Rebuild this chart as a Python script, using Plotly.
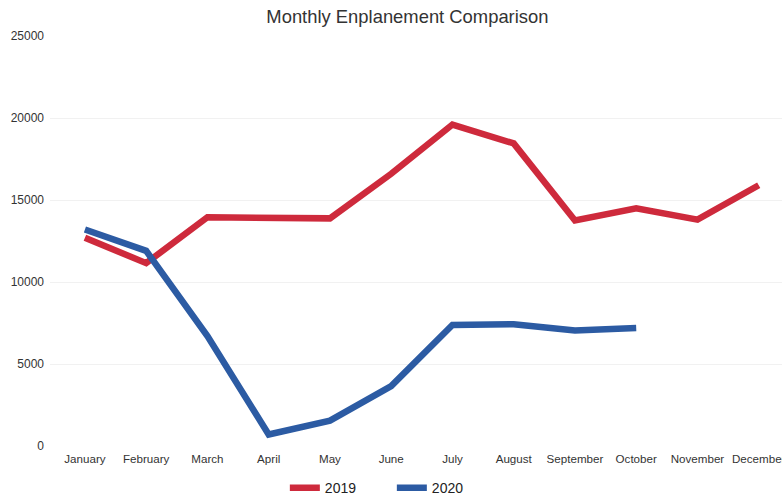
import plotly.graph_objects as go

months = ["January", "February", "March", "April", "May", "June",
          "July", "August", "September", "October", "November", "December"]
enpl_2019 = [12700, 11150, 13950, 13900, 13880, 16600,
             19600, 18450, 13750, 14500, 13800, 15900]
enpl_2020 = [13200, 11900, 6700, 700, 1550, 3650,
             7380, 7420, 7050, 7200]

red = "#CE2A3C"
blue = "#2C5BA3"
font_family = "Liberation Sans, Arial, sans-serif"

fig = go.Figure()
fig.add_trace(go.Scatter(x=months, y=enpl_2019, name="2019", mode="lines",
                         line=dict(color=red, width=6.5)))
fig.add_trace(go.Scatter(x=months[:len(enpl_2020)], y=enpl_2020, name="2020",
                         mode="lines", line=dict(color=blue, width=6.5)))

fig.update_layout(
    width=782, height=498,
    margin=dict(l=50, r=0, t=36, b=52, autoexpand=False),
    paper_bgcolor="white", plot_bgcolor="white",
    font=dict(family=font_family, color="#333333", size=12),
    title=dict(text="Monthly Enplanement Comparison", x=0.521, xanchor="center",
               y=0.966, yanchor="middle",
               font=dict(size=18.4, color="#333333", family=font_family)),
    showlegend=True,
    legend=dict(orientation="h", x=0.467, xanchor="center",
                yref="container", y=0.02, yanchor="middle",
                font=dict(size=14, color="#222222"),
                entrywidth=62, entrywidthmode="pixels",
                itemwidth=30, bgcolor="rgba(0,0,0,0)"),
)
fig.update_xaxes(type="category", categoryorder="array", categoryarray=months,
                 range=[-0.57, 11.38], showgrid=False, zeroline=False,
                 showline=False, ticks="", ticklabelstandoff=4,
                 tickfont=dict(size=11.6, color="#333333"))
fig.update_yaxes(range=[0, 25000], tickvals=[0, 5000, 10000, 15000, 20000, 25000],
                 ticktext=["0", "5000", "10000", "15000", "20000", "25000"],
                 showgrid=True, gridcolor="#f1f1f1", gridwidth=1,
                 zeroline=False, showline=False, ticks="",
                 ticklabelstandoff=5, tickfont=dict(size=12, color="#333333"))

fig.write_html("out.html")
